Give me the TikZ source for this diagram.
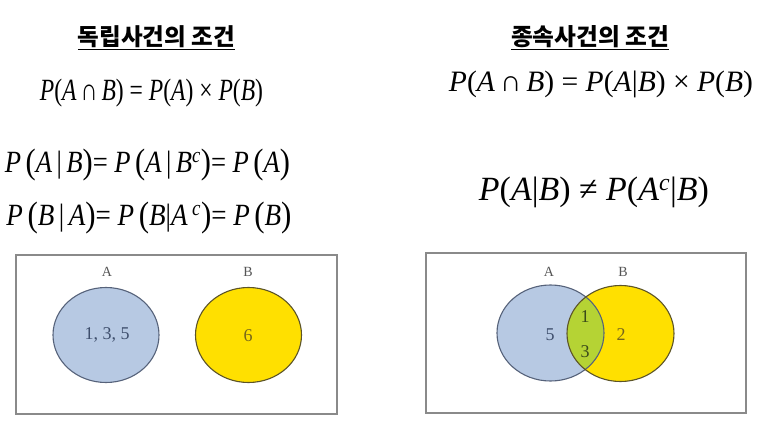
\documentclass[tikz,border=0pt]{standalone}
\usepackage{fontspec}
\usepackage{graphicx}
\usetikzlibrary{shapes.geometric}
\setmainfont{Liberation Serif}
\newfontfamily\kr{Noto Sans CJK KR}
\definecolor{boxgray}{HTML}{8A8A8A}
\definecolor{afill}{HTML}{B7C9E3}
\definecolor{aline}{HTML}{56627A}
\definecolor{bfill}{HTML}{FFE000}
\definecolor{bline}{HTML}{5C5428}
\definecolor{abfill}{HTML}{B5D334}
\definecolor{atext}{HTML}{3E4E6C}
\definecolor{btext}{HTML}{76661C}
\definecolor{abtext}{HTML}{3A4A1A}
\definecolor{lbl}{HTML}{555555}
\newcommand{\fitw}[2]{\resizebox{#1pt}{!}{#2}}
\newcommand{\fitwh}[3]{\resizebox*{#1pt}{#2pt}{#3}}
\newcommand{\iv}[1]{\textit{#1}}
\newcommand{\bp}[1]{{\fontsize{32}{32}\selectfont\raisebox{-1pt}{#1}}}
\tikzset{
  title/.style={inner sep=0pt, font=\kr\bfseries},
  formula/.style={inner sep=0pt, anchor=center},
  frame/.style={draw=boxgray, line width=1.3pt},
  setlbl/.style={inner sep=0pt, text=lbl, font=\fontsize{14}{14}\selectfont},
  num/.style={inner sep=0pt, font=\fontsize{18}{18}\selectfont},
  setcirc/.style={ellipse, line width=1.1pt, minimum width=106pt, minimum height=95pt, inner sep=0pt},
}
\begin{document}
\begin{tikzpicture}[x=1pt,y=-1pt]
\useasboundingbox[fill=white] (0,0) rectangle (772,426);
% titles
\node[title] (t1) at (156.5,36.5) {\fitw{157}{\kr\bfseries 독립사건의 조건}};
\draw[line width=1.4pt] ([yshift=-1.5pt]t1.south west) -- ([yshift=-1.5pt]t1.south east);
\node[title] (t2) at (590,36.5) {\fitw{158}{\kr\bfseries 종속사건의 조건}};
\draw[line width=1.4pt] ([yshift=-1.5pt]t2.south west) -- ([yshift=-1.5pt]t2.south east);
% formulas left
\node[formula] (l1) at (151.5,93.5) {\fitwh{223}{28}{\fontsize{22}{22}\selectfont\iv{P}(\iv{A}\,∩\,\iv{B}) = \iv{P}(\iv{A}) × \iv{P}(\iv{B})}};
\node[formula] (l2) at (147.5,165.5) {\fitwh{285}{32}{\fontsize{28}{28}\selectfont\iv{P}\,\bp{(}\iv{A}\,|\,\iv{B}\bp{)}= \iv{P}\,\bp{(}\iv{A}\,|\,\iv{B}\textsuperscript{\iv{c}}\bp{)}= \iv{P}\,\bp{(}\iv{A}\bp{)}}};
\node[formula] (l3) at (149,218.5) {\fitwh{285}{32}{\fontsize{28}{28}\selectfont\iv{P}\,\bp{(}\iv{B}\,|\,\iv{A}\bp{)}= \iv{P}\,\bp{(}\iv{B}|\iv{A}\,\textsuperscript{\iv{c}}\bp{)}= \iv{P}\,\bp{(}\iv{B}\bp{)}}};
% formulas right
\node[formula] (r1) at (601,84) {\fitw{304}{\fontsize{26}{26}\selectfont\iv{P}(\iv{A}\,∩\,\iv{B}) = \iv{P}(\iv{A}|\iv{B}) × \iv{P}(\iv{B})}};
\node[formula] (r2) at (594,192.5) {\fitw{230}{\fontsize{30}{30}\selectfont\iv{P}(\iv{A}|\iv{B}) ≠ \iv{P}(\iv{A}\textsuperscript{\iv{c}}|\iv{B})}};
% left venn
\draw[frame] (16,255) rectangle (337,414);
\node[setcirc, draw=aline, fill=afill] (ca) at (106,335) {};
\node[setcirc, draw=bline, fill=bfill] (cb) at (248.5,335) {};
\node[setlbl] (la) at (107,272) {A};
\node[setlbl] (lb) at (248,272) {B};
\node[num, text=atext] (na) at (107,335) {1, 3, 5};
\node[num, text=btext] (nb) at (248,336) {6};
% right venn
\draw[frame] (426,253) rectangle (746,413);
\fill[afill] (550.5,333) ellipse [x radius=53.5pt, y radius=48pt];
\fill[bfill] (620.5,333.5) ellipse [x radius=53.5pt, y radius=48pt];
\begin{scope}
\clip (550.5,333) ellipse [x radius=53.5pt, y radius=48pt];
\fill[abfill] (620.5,333.5) ellipse [x radius=53.5pt, y radius=48pt];
\end{scope}
\draw[aline, line width=1.1pt] (550.5,333) ellipse [x radius=53.5pt, y radius=48pt];
\draw[bline, line width=1.1pt] (620.5,333.5) ellipse [x radius=53.5pt, y radius=48pt];
\node[setlbl] (ra) at (549,272) {A};
\node[setlbl] (rb) at (623,272) {B};
\node[num, text=atext] (n5) at (550,335) {5};
\node[num, text=abtext] (n1) at (585,317) {1};
\node[num, text=abtext] (n3) at (585,352) {3};
\node[num, text=btext] (n2) at (621,335) {2};
\end{tikzpicture}
\end{document}
